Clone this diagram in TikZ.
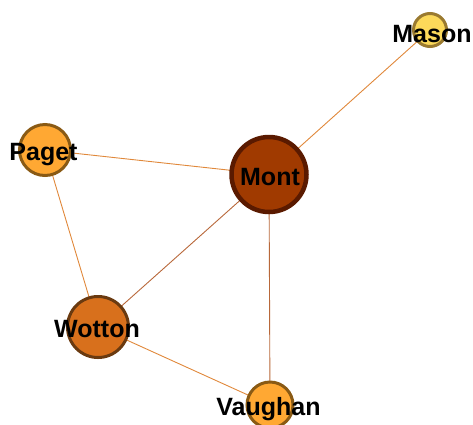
\documentclass[tikz,border=0pt]{standalone}
\usepackage{fontspec}
\setmainfont{Liberation Sans}
\usetikzlibrary{backgrounds}
\definecolor{edgec}{HTML}{E0883A}
\definecolor{edgeb}{HTML}{B8683A}
\definecolor{montf}{HTML}{A03A00}
\definecolor{montd}{HTML}{5A1A00}
\definecolor{masonf}{HTML}{FCD95A}
\definecolor{masond}{HTML}{9A7A30}
\definecolor{orf}{HTML}{FFA833}
\definecolor{ord}{HTML}{8A5A14}
\definecolor{wotf}{HTML}{D8701C}
\definecolor{wotd}{HTML}{6A3A10}
\begin{document}
\begin{tikzpicture}[x=1pt,y=-1pt,
  vtx/.style={circle,inner sep=0pt,line width=3pt},
  lbl/.style={inner sep=0pt,anchor=base,font=\fontsize{25}{25}\selectfont\bfseries},
  edge/.style={draw=edgec,line width=0.9pt}]
\useasboundingbox (0,0) rectangle (473,424);
\node[vtx,line width=4.5pt,minimum size=75pt,fill=montf,draw=montd] (mont) at (269,174.5) {};
\node[vtx,minimum size=33pt,fill=masonf,draw=masond] (mason) at (430,30) {};
\node[vtx,minimum size=51pt,fill=orf,draw=ord] (paget) at (45,150) {};
\node[vtx,minimum size=61pt,fill=wotf,draw=wotd] (wotton) at (98,327) {};
\node[vtx,minimum size=46pt,fill=orf,draw=ord] (vaughan) at (270,405) {};
\begin{pgfonlayer}{background}
\draw[edge] (mason.center) -- (mont.center);
\draw[edge] (paget.center) -- (mont.center);
\draw[edge] (paget.center) -- (wotton.center);
\draw[edge,draw=edgeb] (wotton.center) -- (mont.center);
\draw[edge] (wotton.center) -- (vaughan.center);
\draw[edge,draw=edgeb] (mont.center) -- (vaughan.center);
\end{pgfonlayer}
\node[lbl] (tmont) at (270,185) {Mont};
\node[lbl] (tmason) at (432,42) {Mason};
\node[lbl] (tpaget) at (43.5,160) {Paget};
\node[lbl] (twotton) at (97,337) {Wotton};
\node[lbl] (tvaughan) at (268.5,415) {Vaughan};
\end{tikzpicture}
\end{document}
